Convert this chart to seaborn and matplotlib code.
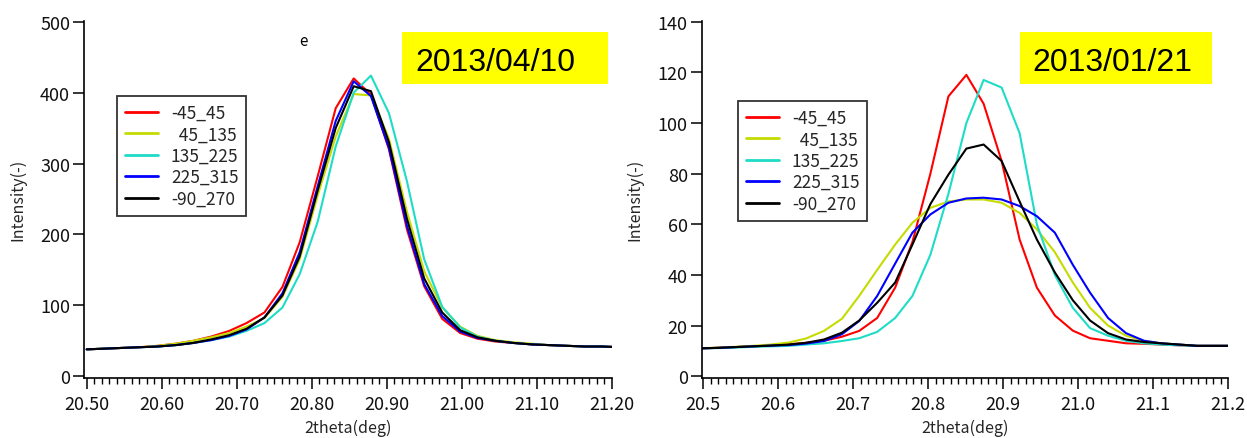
import matplotlib
matplotlib.use("Agg")
import matplotlib.pyplot as plt
from matplotlib.patches import Rectangle
from matplotlib.ticker import MultipleLocator, FormatStrFormatter
import seaborn as sns
import pandas as pd

# ---------------- data ----------------
series_names = ["-45_45", "45_135", "135_225", "225_315", "-90_270"]
legend_labels = ["-45_45", "  45_135", "135_225", "225_315", "-90_270"]
series_colors = ["#ff0000", "#c4dc00", "#1edcc6", "#0000ff", "#000000"]

# 2013/04/10 panel
x_left = [20.500, 20.524, 20.547, 20.571, 20.595, 20.619, 20.642, 20.666, 20.690, 20.713,
          20.737, 20.761, 20.784, 20.808, 20.832, 20.856, 20.879, 20.903, 20.927, 20.950,
          20.974, 20.998, 21.021, 21.045, 21.069, 21.093, 21.116, 21.140, 21.164, 21.187, 21.211]
red_left = [38, 39, 40, 41, 43, 46, 50, 56, 64, 75, 90, 126, 189, 282, 378, 420, 397, 320, 207, 127,
            81, 61, 53, 49, 47, 45, 44, 43, 42, 42, 41]
yellow_left = [38, 39, 40, 41, 43, 46, 50, 55, 61, 70, 82, 112, 165, 255, 338, 398, 396, 335, 232, 148,
               97, 70, 57, 51, 48, 46, 44, 43, 42, 42, 41]
cyan_left = [38, 39, 40, 41, 42, 44, 47, 51, 56, 64, 75, 97, 144, 218, 324, 400, 424, 371, 275, 165,
             98, 69, 56, 50, 47, 45, 44, 43, 42, 42, 41]
blue_left = [38, 39, 40, 41, 42, 44, 47, 51, 57, 66, 83, 117, 175, 268, 360, 416, 395, 322, 212, 130,
             85, 63, 54, 50, 47, 45, 44, 43, 42, 42, 41]
black_left = [38, 39, 40, 41, 42, 44, 47, 52, 58, 67, 83, 114, 169, 262, 350, 409, 402, 330, 222, 138,
              90, 65, 55, 50, 47, 45, 44, 43, 42, 42, 41]

# 2013/01/21 panel
x_right = [20.495, 20.519, 20.542, 20.566, 20.590, 20.614, 20.637, 20.661, 20.685, 20.708,
           20.732, 20.756, 20.779, 20.803, 20.827, 20.851, 20.874, 20.898, 20.922, 20.945,
           20.969, 20.993, 21.016, 21.040, 21.064, 21.088, 21.111, 21.135, 21.159, 21.182, 21.206]
red_right = [11, 11.2, 11.5, 11.8, 12.2, 12.6, 13.2, 14, 15.6, 17.9, 23, 35, 53, 80, 110.5, 119, 107.6,
             85, 54, 35, 24, 18, 15, 14, 13, 12.8, 12.5, 12.2, 12, 12, 12]
yellow_right = [11, 11.3, 11.6, 12, 12.5, 13.3, 14.9, 17.9, 22.7, 31.7, 42, 52, 60.6, 66.5, 69, 69.8,
                69.8, 68.5, 64.5, 58, 49, 37, 27, 20, 16, 14, 13, 12.5, 12, 12, 12]
cyan_right = [11, 11.1, 11.3, 11.6, 11.8, 12, 12.5, 13, 13.9, 15, 17.5, 23, 31.7, 48, 72, 100, 117,
              114, 96, 60, 40, 27, 19, 16, 14, 13, 12.5, 12.2, 12, 12, 12]
blue_right = [11, 11.2, 11.5, 11.8, 12.1, 12.3, 12.9, 13.9, 16.6, 21.8, 31.7, 44.5, 56.7, 63.9, 68.5,
              70.2, 70.5, 69.8, 67.2, 63.2, 56.7, 44, 33, 23, 17, 14, 13, 12.5, 12, 12, 12]
black_right = [11, 11.2, 11.5, 11.8, 12.1, 12.5, 13.2, 14.5, 17.2, 22, 29, 37, 52, 68, 79.6, 89.9,
               91.5, 85, 69, 54, 41, 30, 22, 17, 14.5, 13.5, 13, 12.5, 12, 12, 12]

date_left = "2013/04/10"
date_right = "2013/01/21"
x_label = "2theta(deg)"
y_label = "Intensity(-)"

# ---------------- style ----------------
sns.set_style("ticks")
plt.rcParams["font.family"] = ["Noto Sans CJK JP", "DejaVu Sans"]

W, H = 1247, 439
fig = plt.figure(figsize=(W / 100, H / 100), dpi=100)


def rect(l, t, r, b):
    return [l / W, 1 - b / H, (r - l) / W, (b - t) / H]


def long_df(x, cols):
    rows = []
    for name, vals in zip(series_names, cols):
        for xv, yv in zip(x, vals):
            rows.append({"x": xv, "y": yv, "series": name})
    return pd.DataFrame(rows)


palette = dict(zip(series_names, series_colors))

axL = fig.add_axes(rect(84, 21.7, 612, 379))
axR = fig.add_axes(rect(701.7, 21.7, 1228, 379))

dfL = long_df(x_left, [red_left, yellow_left, cyan_left, blue_left, black_left])
dfR = long_df(x_right, [red_right, yellow_right, cyan_right, blue_right, black_right])

for ax, df in [(axL, dfL), (axR, dfR)]:
    sns.lineplot(data=df, x="x", y="y", hue="series", hue_order=series_names,
                 palette=palette, estimator=None, sort=False, legend=False,
                 linewidth=1.5, ax=ax)

axL.set_xlim(20.4964, 21.2004)
axL.set_ylim(-2.4, 501.4)
axR.set_xlim(20.4979, 21.2)
axR.set_ylim(-0.7, 140.4)

axL.xaxis.set_major_locator(MultipleLocator(0.1))
axL.xaxis.set_major_formatter(FormatStrFormatter("%.2f"))
axR.xaxis.set_major_locator(MultipleLocator(0.1))
axR.xaxis.set_major_formatter(FormatStrFormatter("%.1f"))
for ax in (axL, axR):
    ax.xaxis.set_minor_locator(MultipleLocator(0.01))
axL.yaxis.set_major_locator(MultipleLocator(100))
axR.yaxis.set_major_locator(MultipleLocator(20))

for ax in (axL, axR):
    sns.despine(ax=ax)
    for s in ("left", "bottom"):
        ax.spines[s].set_linewidth(1.2)
        ax.spines[s].set_color("black")
    ax.tick_params(axis="both", which="major", direction="out", length=8, width=1.1,
                   labelsize=13, color="black", labelcolor="#111111")
    ax.tick_params(axis="x", which="major", pad=4)
    ax.tick_params(axis="y", which="major", pad=2)
    ax.tick_params(axis="x", which="minor", direction="out", length=4.3, width=1.0, color="black")
    ax.set_xlabel(x_label, fontsize=11.5)
    ax.set_ylabel(y_label, fontsize=11.5)
    ax.xaxis.label.set_va("center")
    ax.yaxis.label.set_va("center")
    ax.set_facecolor("white")

axL.xaxis.set_label_coords(0.5, (379 - 428) / 357.3)
axR.xaxis.set_label_coords(0.5, (379 - 428) / 357.3)
axL.yaxis.set_label_coords((18 - 84) / 528, 0.5)
axR.yaxis.set_label_coords((635 - 701.7) / 526.3, 0.5)

# legends
for ax, (lx, ly) in [(axL, (117, 97)), (axR, (738, 102))]:
    handles = ax.get_lines()[:5]
    leg = ax.legend(handles, legend_labels, loc="upper left",
                    bbox_to_anchor=(lx / W, 1 - ly / H), bbox_transform=fig.transFigure,
                    borderaxespad=0, fancybox=False, frameon=True, fontsize=12.5,
                    handlelength=1.9, handletextpad=0.75, labelspacing=0.2,
                    borderpad=0.45)
    leg.get_frame().set_edgecolor("black")
    leg.get_frame().set_linewidth(1.3)
    for lh in leg.get_lines():
        lh.set_linewidth(2.0)

# date tags
for (x0, x1, tx, txt) in [(402, 608, 415, date_left), (1020, 1212, 1032, date_right)]:
    fig.add_artist(Rectangle((x0 / W, 1 - 85 / H), (x1 - x0) / W, (85 - 33) / H,
                             transform=fig.transFigure, facecolor="#ffff00",
                             edgecolor="none", zorder=5))
    fig.text(tx / W, 1 - 71 / H, txt, fontsize=23, family="Liberation Sans",
             ha="left", va="baseline", zorder=6, color="black")

# stray glyph in the original
fig.text(303 / W, 1 - 41 / H, "e", fontsize=11, ha="center", va="center", color="black")

fig.savefig("out.png", dpi=100, facecolor="white")
